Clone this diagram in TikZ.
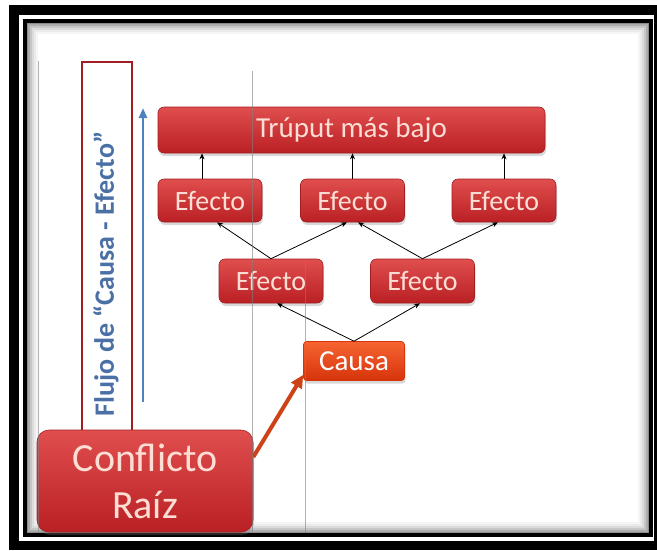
\documentclass[tikz,border=0pt]{standalone}
\usepackage{fontspec}
\setmainfont{Carlito}
\usepackage{xcolor}
\usetikzlibrary{arrows.meta,positioning,calc,shadows}

\definecolor{boxtop}{RGB}{224,78,78}
\definecolor{boxmid}{RGB}{204,42,44}
\definecolor{boxbot}{RGB}{186,32,36}
\definecolor{boxline}{RGB}{160,30,34}
\definecolor{boxtext}{RGB}{252,222,212}
\definecolor{causatop}{RGB}{246,100,50}
\definecolor{causamid}{RGB}{232,66,16}
\definecolor{causabot}{RGB}{214,52,10}
\definecolor{flowblue}{RGB}{79,129,189}
\definecolor{flowtext}{RGB}{74,112,166}
\definecolor{rootarrow}{RGB}{206,66,24}

\tikzset{
  redbox/.style={rectangle, rounded corners=6pt, draw=boxline, line width=0.6pt,
    top color=boxtop, middle color=boxmid, bottom color=boxbot,
    text=boxtext, inner sep=0pt,
    drop shadow={shadow xshift=1pt, shadow yshift=-3pt, opacity=0.3}},
  efecto/.style={redbox, minimum width=104pt, minimum height=43pt,
    font=\fontsize{28}{30}\selectfont},
  link/.style={-{Stealth[length=6pt,width=5pt]}, line width=0.8pt, black}
}

\begin{document}
\begin{tikzpicture}[x=1pt, y=-1pt]
  \useasboundingbox (0,0) rectangle (657,550);

  % Frame
  \fill[black] (9,5) rectangle (657,550);
  \fill[white] (19,15) rectangle (654,541);
  \foreach \d/\o in {2/0.45,4/0.32,6/0.22,8/0.14,10/0.08,12/0.04}
    \draw[black, opacity=\o, line width=2pt] (25+\d,21+\d) rectangle (650.5-\d,535-\d);
  \draw[black, line width=4pt] (25,21) rectangle (650.5,535);

  % Flow box
  \node[draw=boxline, line width=1.5pt, fill=white, minimum width=50pt,
    minimum height=380pt, inner sep=0pt] (flujo) at (107,252) {};
  \node[rotate=90, text=flowtext, font=\bfseries\fontsize{28}{30}\selectfont]
    (flujolbl) at (106,274) {Flujo de “Causa - Efecto”};
  \coordinate (flowbot) at (143,402);
  \coordinate (flowtop) at (143,108);
  \draw[-{Triangle[length=10pt,width=8pt]}, flowblue, line width=2.5pt] (flowbot) -- (flowtop);

  % Top box
  \node[redbox, minimum width=387pt, minimum height=46pt,
    font=\fontsize{29}{31}\selectfont] (trup) at (351.5,130) {Trúput más bajo};

  % Efecto boxes
  \node[efecto] (e1) at (210,200.5) {Efecto};
  \node[efecto] (e2) at (352.5,200.5) {Efecto};
  \node[efecto] (e3) at (504,200.5) {Efecto};
  \node[efecto, minimum height=44pt] (e4) at (271,281) {Efecto};
  \node[efecto, minimum height=44pt] (e5) at (422.5,281) {Efecto};

  % Causa box
  \node[redbox, rounded corners=3pt, draw=causabot, top color=causatop, middle color=causamid,
    bottom color=causabot, text=white, minimum width=101pt, minimum height=39pt,
    font=\fontsize{29}{31}\selectfont] (causa) at (354,361) {Causa};

  % Root box
  \node[redbox, rounded corners=12pt, minimum width=216pt, minimum height=102pt,
    align=center, font=\fontsize{40}{47}\selectfont] (raiz) at (145,481) {Conflicto\\Raíz};

  % Links to the top box
  \draw[link] ([xshift=-8pt]e1.north) -- ([xshift=-8pt]e1.north |- trup.south);
  \draw[link] (e2.north) -- (e2.north |- trup.south);
  \draw[link] (e3.north) -- (e3.north |- trup.south);

  % Links between effects
  \draw[link] (e4.north) -- ([xshift=7pt]e1.south);
  \draw[link] (e4.north) -- ([xshift=-5.5pt]e2.south);
  \draw[link] (e5.north) -- ([xshift=5.5pt]e2.south);
  \draw[link] (e5.north) -- ([xshift=-6pt]e3.south);

  % Links from the cause
  \draw[link] (causa.north) -- ([xshift=6pt]e4.south);
  \draw[link] (causa.north) -- ([xshift=-2.5pt]e5.south);

  % Root to cause
  \draw[-{Triangle[length=13pt,width=12pt]}, rootarrow, line width=4pt]
    ([yshift=24pt]raiz.east) -- ([yshift=6pt]causa.south west);

  % Guide lines
  \draw[gray, opacity=0.6, line width=0.8pt] (38,61) -- (38,533);
  \draw[gray, opacity=0.6, line width=0.8pt] (252,71) -- (252,533);
  \draw[gray, opacity=0.6, line width=0.8pt] (305,260) -- (305,533);
\end{tikzpicture}
\end{document}
